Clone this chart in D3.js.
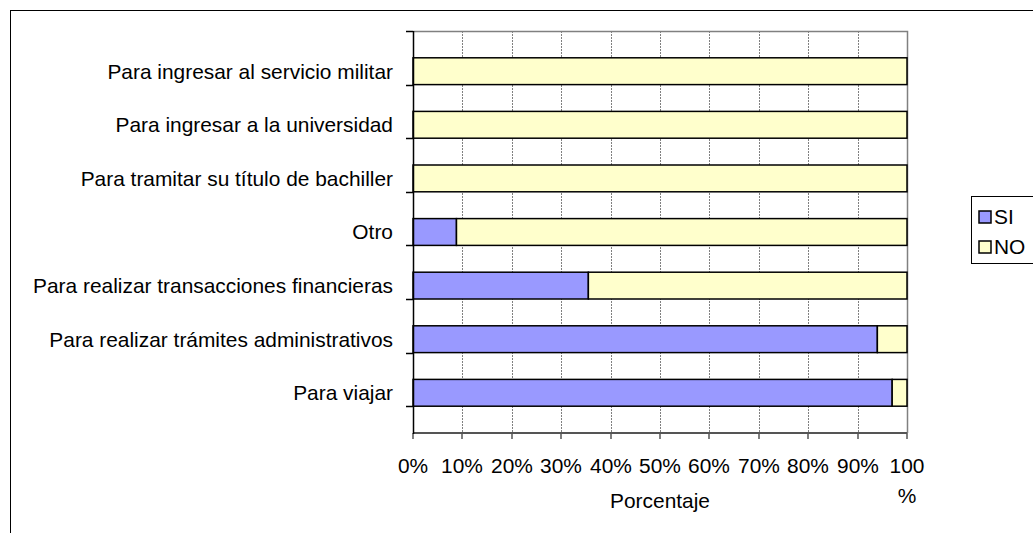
<!DOCTYPE html>
<html>
<head>
<meta charset="utf-8">
<script src="https://cdn.jsdelivr.net/npm/d3@7"></script>
<style>
  body { margin: 0; background: #fff; }
  svg { display: block; font-family: "Liberation Sans", Arial, sans-serif; }
</style>
</head>
<body>
<div id="graph"></div>
<script>
// categories listed top to bottom
var categories = [
  "Para ingresar al servicio militar",
  "Para ingresar a la universidad",
  "Para tramitar su título de bachiller",
  "Otro",
  "Para realizar transacciones financieras",
  "Para realizar trámites administrativos",
  "Para viajar"
];
var siValues = [0, 0, 0, 8.8, 35.5, 94, 97];
var noValues = [100, 100, 100, 91.2, 64.5, 6, 3];
var tickValues = [0, 10, 20, 30, 40, 50, 60, 70, 80, 90, 100];
var seriesNames = ["SI", "NO"];

var width = 1033, height = 533;
var fontSize = 20.9;
var margin = { top: 31, left: 413, right: 126, bottom: 100 };
var chartWidth = width - margin.left - margin.right;
var chartHeight = height - margin.top - margin.bottom;

var color = d3.scaleOrdinal().domain(seriesNames).range(["#9999ff", "#ffffcc"]);

var data = categories.map(function(c, i) {
  return { who: c, SI: siValues[i], NO: noValues[i] };
});

var svg = d3.select("#graph").append("svg")
  .attr("width", width)
  .attr("height", height);

// outer chart border
svg.append("rect")
  .attr("x", 10.5).attr("y", 10.5)
  .attr("width", width + 20).attr("height", height + 20)
  .attr("fill", "none").attr("stroke", "#000").attr("stroke-width", 1);

var xScale = d3.scaleLinear().domain([0, 100]).range([0, chartWidth]);
var yScale = d3.scaleBand().domain(categories).range([0, chartHeight]).padding(0.5);

var chartLayer = svg.append("g")
  .attr("transform", "translate(" + [margin.left, margin.top] + ")");

// grid lines
chartLayer.append("g").selectAll("line")
  .data(tickValues.slice(1, -1))
  .enter().append("line")
  .attr("x1", function(d) { return Math.round(xScale(d)) + 0.5; })
  .attr("x2", function(d) { return Math.round(xScale(d)) + 0.5; })
  .attr("y1", 0).attr("y2", chartHeight)
  .attr("stroke", "#808080")
  .attr("stroke-dasharray", "2,1");

// plot area frame (top + right)
chartLayer.append("path")
  .attr("d", "M0,0.5H" + (chartWidth + 0.5) + "V" + chartHeight)
  .attr("fill", "none").attr("stroke", "#808080").attr("stroke-width", 1.5);

// bars
var stacked = d3.stack().keys(seriesNames)(data);
chartLayer.append("g").selectAll("g")
  .data(stacked)
  .enter().append("g")
  .attr("fill", function(d) { return color(d.key); })
  .selectAll("rect")
  .data(function(d) { return d.filter(function(p) { return p[1] - p[0] > 0; }); })
  .enter().append("rect")
  .attr("x", function(d) { return xScale(d[0]); })
  .attr("y", function(d) { return yScale(d.data.who); })
  .attr("width", function(d) { return xScale(d[1]) - xScale(d[0]); })
  .attr("height", yScale.bandwidth())
  .attr("stroke", "#000")
  .attr("stroke-width", 1.5);

// x axis
var xAxis = chartLayer.append("g")
  .attr("transform", "translate(0," + chartHeight + ")");
xAxis.append("line")
  .attr("x1", 0).attr("x2", chartWidth)
  .attr("stroke", "#555").attr("stroke-width", 2);
var xt = xAxis.selectAll(".tick")
  .data(tickValues)
  .enter().append("g")
  .attr("transform", function(d) { return "translate(" + Math.round(xScale(d)) + ",0)"; });
xt.append("line").attr("y1", 0).attr("y2", 6).attr("stroke", "#555").attr("stroke-width", 1.5);
xt.each(function(d) {
  var t = d3.select(this).append("text")
    .attr("text-anchor", "middle")
    .attr("font-size", fontSize)
    .attr("fill", "#000")
    .attr("y", 40);
  if (d === 100) {
    // the last label wraps in the original
    t.append("tspan").attr("x", 0).text("100");
    t.append("tspan").attr("x", 0).attr("dy", 30).text("%");
  } else {
    t.text(d + "%");
  }
});

chartLayer.append("text")
  .attr("x", chartWidth / 2)
  .attr("y", chartHeight + 75)
  .attr("text-anchor", "middle")
  .attr("font-size", fontSize)
  .text("Porcentaje");

// y axis
var yAxis = chartLayer.append("g");
yAxis.append("line")
  .attr("x1", 0.5).attr("x2", 0.5).attr("y1", 0).attr("y2", chartHeight + 1)
  .attr("stroke", "#000").attr("stroke-width", 1.5);
yAxis.selectAll(".tk")
  .data(d3.range(categories.length + 1))
  .enter().append("line")
  .attr("x1", -7).attr("x2", 0)
  .attr("y1", function(i) { return Math.round(i * yScale.step()) + 0.5; })
  .attr("y2", function(i) { return Math.round(i * yScale.step()) + 0.5; })
  .attr("stroke", "#000").attr("stroke-width", 1.5);
yAxis.selectAll("text")
  .data(categories)
  .enter().append("text")
  .attr("x", -20)
  .attr("y", function(d) { return yScale(d) + yScale.bandwidth() / 2; })
  .attr("dy", "0.35em")
  .attr("text-anchor", "end")
  .attr("font-size", fontSize)
  .text(function(d) { return d; });

// legend
var legend = svg.append("g").attr("transform", "translate(971,196)");
legend.append("rect")
  .attr("x", 0.5).attr("y", 0.5).attr("width", 100).attr("height", 67)
  .attr("fill", "#fff").attr("stroke", "#000");
var entry = legend.selectAll(".entry")
  .data(seriesNames)
  .enter().append("g")
  .attr("transform", function(d, i) { return "translate(8," + (21 + i * 30) + ")"; });
entry.append("rect")
  .attr("x", 0).attr("y", -6).attr("width", 12).attr("height", 12)
  .attr("fill", color).attr("stroke", "#000").attr("stroke-width", 1.5);
entry.append("text")
  .attr("x", 15).attr("dy", "0.35em")
  .attr("font-size", fontSize)
  .text(function(d) { return d; });
</script>
</body>
</html>
